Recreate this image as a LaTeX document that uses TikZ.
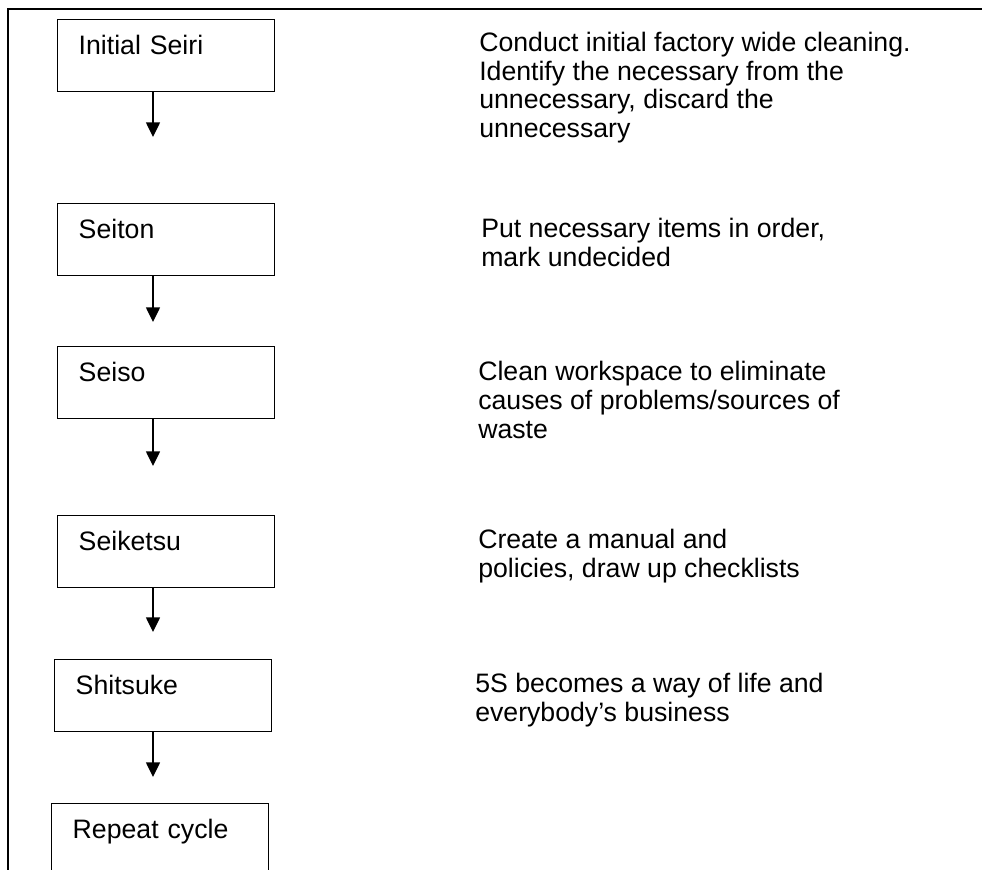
\documentclass[tikz,border=0pt]{standalone}
\usepackage{fontspec}
\setmainfont{Liberation Sans}
\usetikzlibrary{positioning, arrows.meta}

\begin{document}
\begin{tikzpicture}[x=0.75pt, y=-0.75pt,
    font=\fontsize{20}{21.4}\selectfont,
    stepbox/.style={draw, line width=1.1pt, rectangle, anchor=north west,
        minimum width=162.75pt, inner xsep=15.75pt, inner ysep=0pt,
        text width=131.25pt, align=left, text height=26.25pt, text depth=27.75pt},
    note/.style={anchor=base west, align=left, inner sep=0pt},
    flow/.style={-{Triangle[width=10.5pt, length=11pt]}, line width=1.1pt}]
    \clip (0,0) rectangle (982,870);

    % Frame
    \draw[line width=2pt] (8,880) -- (8,9) -- (990,9);

    % Draw steps
    \node[stepbox] (seiri) at (57,19) {Initial Seiri};
    \node[stepbox] (seiton) at (57,203) {Seiton};
    \node[stepbox] (seiso) at (57,346) {Seiso};
    \node[stepbox] (seiketsu) at (57,515) {Seiketsu};
    \node[stepbox] (shitsuke) at (54,659) {Shitsuke};
    \node[stepbox] (repeat) at (51,803) {Repeat cycle};

    % Draw arrows
    \coordinate (t1) at (153,137);
    \coordinate (t2) at (153,322);
    \coordinate (t3) at (153,466);
    \coordinate (t4) at (153,632);
    \coordinate (t5) at (153,777);
    \draw[flow] (seiri.south -| t1) -- (t1);
    \draw[flow] (seiton.south -| t2) -- (t2);
    \draw[flow] (seiso.south -| t3) -- (t3);
    \draw[flow] (seiketsu.south -| t4) -- (t4);
    \draw[flow] (shitsuke.south -| t5) -- (t5);

    % Descriptions (anchored at the last line)
    \node[note] (seiritxt) at (479,137.5) {Conduct initial factory wide cleaning.\\
        Identify the necessary from the\\ unnecessary, discard the\\ unnecessary};
    \node[note] (seitontxt) at (481,266.5) {Put necessary items in order,\\ mark undecided};
    \node[note] (seisotxt) at (478,438) {Clean workspace to eliminate\\
        causes of problems/sources of\\ waste};
    \node[note] (seiketsutxt) at (478,577.5) {Create a manual and\\ policies, draw up checklists};
    \node[note] (shitsuketxt) at (475,721.5) {5S becomes a way of life and\\ everybody’s business};
\end{tikzpicture}
\end{document}
